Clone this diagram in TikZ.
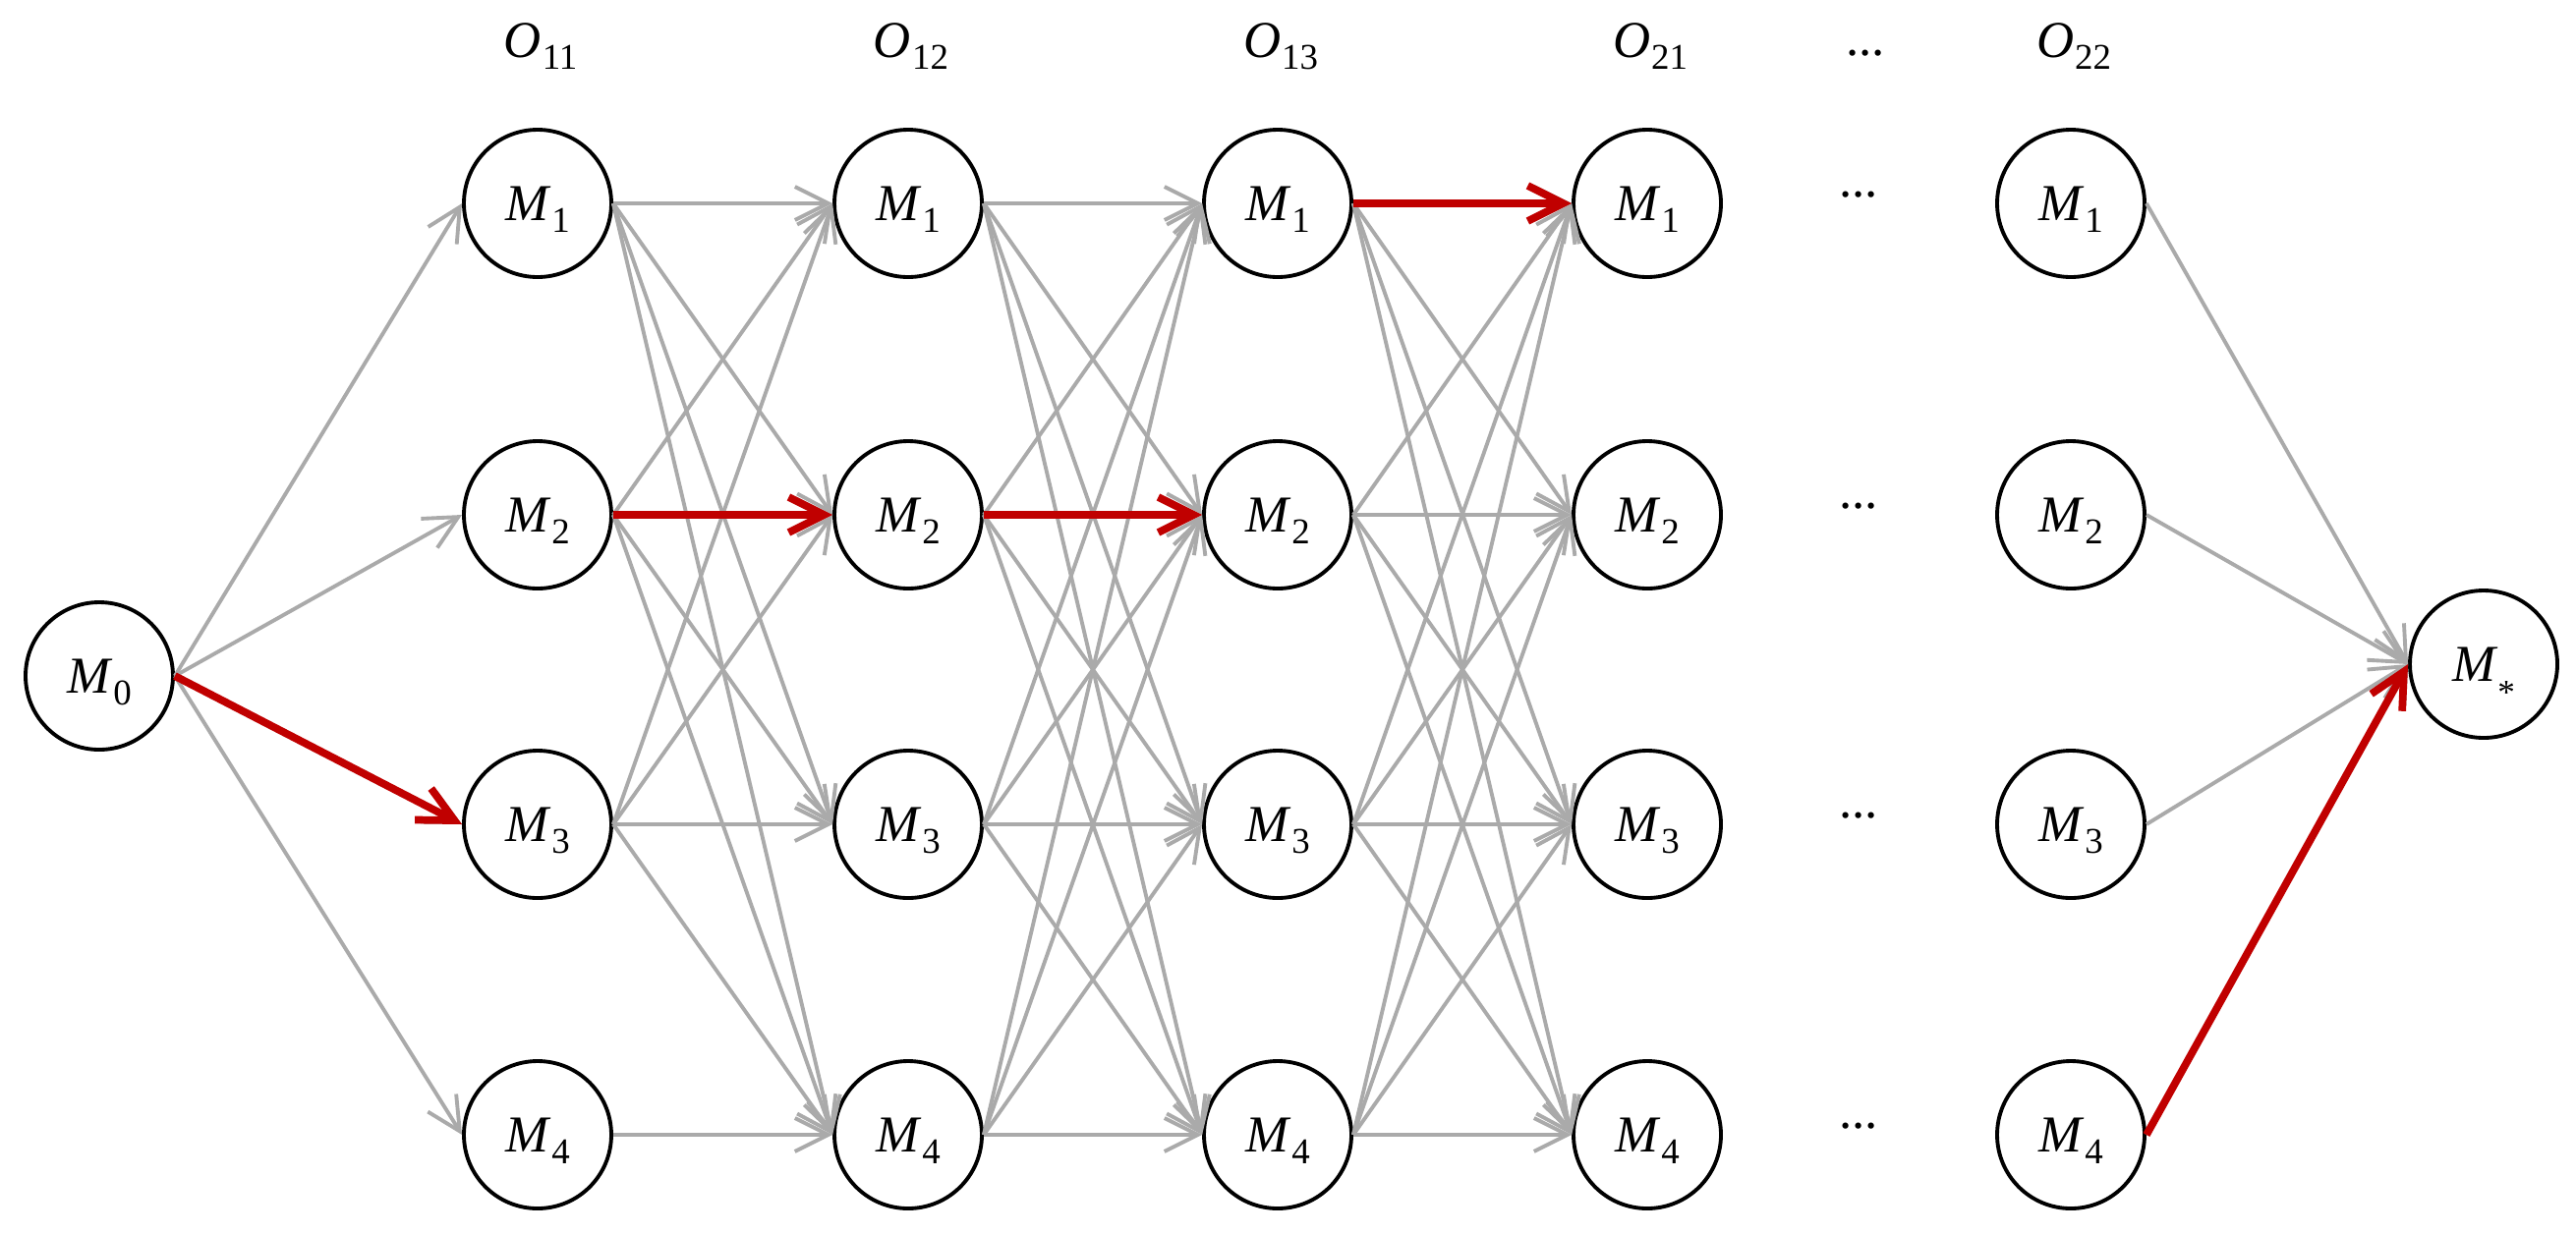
\documentclass[tikz,border=0pt]{standalone}
\usepackage{fontspec}
\setmainfont{Liberation Serif}
\usetikzlibrary{arrows.meta}
\definecolor{edgegray}{RGB}{170,170,170}
\definecolor{pathred}{RGB}{192,0,0}
\newcommand{\mlab}[2]{\textit{#1}\kern0.3pt\raisebox{-3.5pt}[0pt][0pt]{\fontsize{10.5}{12}\selectfont #2}}
\begin{document}
\begin{tikzpicture}[
  state/.style={circle, draw=black, line width=1.1pt, minimum size=1.5cm, inner sep=0pt, font=\fontsize{15}{18}\selectfont},
  head/.style={anchor=base, inner sep=0pt, font=\fontsize{15}{18}\selectfont},
  gedge/.style={draw=edgegray, line width=1.1pt, -{Straight Barb[length=3.4mm,width=3.4mm]}},
  redge/.style={draw=pathred, line width=2.2pt, -{Straight Barb[length=3.6mm,width=3.6mm]}},
]
\useasboundingbox (0,0) rectangle (26.21,-12.55);
% nodes
\node[state] (m0) at (1.01,-6.88) {\mlab{M}{0}};
\foreach \c/\x in {a/5.47,b/9.24,c/13.00,d/16.76,e/21.07}
  \foreach \r/\y in {1/-2.07,2/-5.24,3/-8.39,4/-11.55}
    \node[state] (\c\r) at (\x,\y) {\mlab{M}{\r}};
\node[state] (ms) at (25.27,-6.76) {\textit{M}\raisebox{-6.5pt}[0pt][0pt]{\fontsize{10}{12}\selectfont *}};
% headers
\node[head] (o11) at (5.50,-0.58) {\mlab{O}{11}};
\node[head] (o12) at (9.27,-0.58) {\mlab{O}{12}};
\node[head] (o13) at (13.03,-0.58) {\mlab{O}{13}};
\node[head] (o21) at (16.79,-0.58) {\mlab{O}{21}};
\node[head] (hdots) at (18.98,-0.56) {...};
\node[head] (o22) at (21.10,-0.58) {\mlab{O}{22}};
\foreach \r/\y in {1/-2.00,2/-5.17,3/-8.32,4/-11.48}
  \node[head] (dots\r) at (18.91,\y) {...};
% gray edges
\foreach \j in {1,...,4} \draw[gedge] (m0.east) -- (a\j.west);
\foreach \i in {1,2,3} \foreach \j in {1,...,4} \draw[gedge] (a\i.east) -- (b\j.west);
\draw[gedge] (a4.east) -- (b4.west);
\foreach \i in {1,...,4} \foreach \j in {1,...,4} {
  \draw[gedge] (b\i.east) -- (c\j.west);
  \draw[gedge] (c\i.east) -- (d\j.west);
}
\foreach \i in {1,...,4} \draw[gedge] (e\i.east) -- (ms.west);
% red path
\draw[redge] (m0.east) -- (a3.west);
\draw[redge] (a2.east) -- (b2.west);
\draw[redge] (b2.east) -- (c2.west);
\draw[redge] (c1.east) -- (d1.west);
\draw[redge] (e4.east) -- (ms.west);
\end{tikzpicture}
\end{document}
